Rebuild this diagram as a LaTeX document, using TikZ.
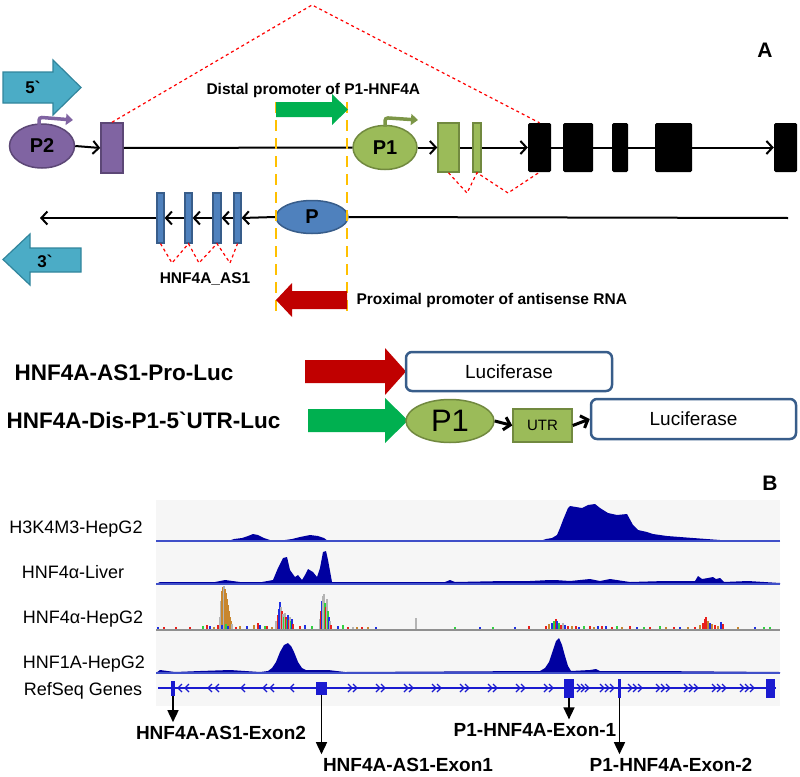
\documentclass[tikz,border=0pt]{standalone}
\usepackage{fontspec}
\setmainfont{Liberation Sans}
\usepackage{tikz}
\usetikzlibrary{arrows.meta,positioning,calc,shapes.geometric}

\definecolor{capblue}{HTML}{4BACC6}
\definecolor{capblueD}{HTML}{31859C}
\definecolor{ptwofill}{HTML}{8064A2}
\definecolor{ptwoline}{HTML}{5C4776}
\definecolor{ponefill}{HTML}{9BBB59}
\definecolor{poneline}{HTML}{71893F}
\definecolor{asfill}{HTML}{4F81BD}
\definecolor{asline}{HTML}{385D8A}
\definecolor{disgreen}{HTML}{00B050}
\definecolor{proxred}{HTML}{C00000}
\definecolor{guideorange}{HTML}{FFC000}
\definecolor{signal}{HTML}{0000A0}
\definecolor{sigline}{HTML}{3F4FC8}
\definecolor{trackbg}{HTML}{F6F6F6}
\definecolor{refseq}{HTML}{1A1AD0}
\definecolor{bargray}{HTML}{B4B4B4}
\definecolor{barorange}{HTML}{C8862E}
\definecolor{barred}{HTML}{E8201C}
\definecolor{barblue}{HTML}{2030E0}
\definecolor{bargreen}{HTML}{30D040}

\begin{document}
\begin{tikzpicture}[x=1pt,y=-1pt,
  txt/.style={font=\bfseries\fontsize{15.5}{18}\selectfont},
  strandtxt/.style={font=\bfseries\fontsize{17}{20}\selectfont},
  bigtxt/.style={font=\bfseries\fontsize{22.5}{26}\selectfont},
  trk/.style={font=\fontsize{18}{21}\selectfont},
  exlbl/.style={font=\bfseries\fontsize{19}{22}\selectfont},
  prom/.style={ellipse, line width=1.5pt, inner sep=0pt, font=\bfseries\fontsize{20}{22}\selectfont},
  blk/.style={fill=black, rounded corners=1.5pt, minimum height=49pt, inner sep=0pt},
  gex/.style={fill=ponefill, draw=poneline, line width=1.5pt, minimum height=49pt, inner sep=0pt},
  aex/.style={fill=asfill, draw=asline, line width=1.2pt, minimum width=7pt, minimum height=50pt, inner sep=0pt},
  chev/.style={line width=2pt, -{Straight Barb[length=6pt,width=13pt]}},
  splice/.style={red, dashed, line width=1.2pt},
  guide/.style={guideorange, line width=2.5pt, dash pattern=on 11pt off 7pt},
  lucbox/.style={draw=asline, line width=2.5pt, rounded corners=6pt, fill=white, inner sep=0pt, font=\fontsize{19}{22}\selectfont},
  sig/.style={fill=signal},
  base/.style={sigline, line width=1.5pt},
  refex/.style={fill=refseq, inner sep=0pt},
  pointer/.style={line width=1.5pt, -{Triangle[length=12pt,width=11pt]}}
]
\useasboundingbox (0,0) rectangle (800,776);

% ---------- panel A ----------
\node[font=\bfseries\fontsize{21}{24}\selectfont] (panA) at (765,50) {A};
\coordinate (peak) at (312,5);

% strand arrows
\filldraw[fill=capblue, draw=capblueD, line width=1.2pt]
  (3,72) -- (53,72) -- (53,60) -- (81,87.5) -- (53,115) -- (53,103) -- (3,103) -- cycle;
\node[strandtxt] (fivep) at (33,87) {5\textasciigrave};
\filldraw[fill=capblue, draw=capblueD, line width=1.2pt]
  (81,248) -- (30,248) -- (30,234) -- (3,259.5) -- (30,285) -- (30,272) -- (81,272) -- cycle;
\node[strandtxt] (threep) at (45,261) {3\textasciigrave};

% sense strand
\node[prom, fill=ptwofill, draw=ptwoline, minimum width=65pt, minimum height=44pt] (ptwo) at (42,146) {P2};
\node[fill=ptwofill, draw=ptwoline, line width=1.5pt, minimum width=22pt, minimum height=50pt, inner sep=0pt] (pex) at (112,148) {};
\node[prom, fill=ponefill, draw=poneline, minimum width=64pt, minimum height=44pt] (pone) at (385,147.5) {P1};
\node[gex, minimum width=21pt] (gexa) at (448.5,147.5) {};
\node[gex, minimum width=8pt] (gexb) at (477,147.5) {};
\node[blk, minimum width=23pt] (bexa) at (539.5,147.5) {};
\node[blk, minimum width=30pt] (bexb) at (578,147.5) {};
\node[blk, minimum width=16pt] (bexc) at (620,147.5) {};
\node[blk, minimum width=37pt] (bexd) at (673.5,147.5) {};
\node[blk, minimum width=23pt] (bexe) at (785.5,147.5) {};

\draw[chev] (ptwo.east) -- (pex.west);
\draw[line width=2pt] (pex.east) -- (pone.west);
\draw[chev] (pone.east) -- (gexa.west);
\draw[line width=2pt] (gexa.east) -- (gexb.west);
\draw[chev] (gexb.east) -- (bexa.west);
\draw[line width=2pt] (bexa) -- (bexb) (bexb) -- (bexc) (bexc) -- (bexd);
\draw[chev] (bexd.east) -- (bexe.west);

% TSS arrows
\draw[ptwofill, line width=3.5pt, rounded corners=3pt, -{Triangle[length=7pt,width=11pt]}]
  ($(ptwo.north)+(-3,2)$) -- ++(0,-8) -- (73,120);
\draw[ponefill!80!black, line width=3.5pt, rounded corners=3pt, -{Triangle[length=7pt,width=11pt]}]
  ($(pone.north)+(0,2)$) -- ++(0,-9) -- (418,120);

% splicing
\draw[splice] (pex.north) -- (peak) -- (bexa.north);
\coordinate (va) at (467,193);
\coordinate (vb) at (508,193);
\draw[splice] (gexa.south) -- (va) -- (gexb.south) -- (vb) -- (bexa.south);

% antisense strand
\coordinate (asend) at (788,218);
\coordinate (asstart) at (40,218);
\node[prom, fill=asfill, draw=asline, minimum width=72pt, minimum height=33pt] (pas) at (312,217) {P};
\node[aex] (aexd) at (237.5,218) {};
\node[aex, minimum width=8pt] (aexc) at (217,218) {};
\node[aex] (aexb) at (188.5,218) {};
\node[aex] (aexa) at (160.5,218) {};
\draw[line width=2pt] (asend) -- (pas.east);
\draw[chev] (pas.west) -- (aexd.east);
\draw[chev] (aexd.west) -- (aexc.east);
\draw[chev] (aexc.west) -- (aexb.east);
\draw[chev] (aexb.west) -- (aexa.east);
\draw[chev] (aexa.west) -- (asstart);
\coordinate (wa) at (172,263);
\coordinate (wb) at (199,263);
\coordinate (wc) at (230,263);
\draw[splice] (aexa.south) -- (wa) -- (aexb.south) -- (wb) -- (aexc.south) -- (wc) -- (aexd.south);
\node[txt, anchor=base] (aslbl) at (205,283) {HNF4A\_AS1};

% promoter regions
\draw[guide] (276,102) -- (276,312);
\draw[guide] (347,102) -- (347,312);
\fill[disgreen] (276,102) -- (332,102) -- (332,94) -- (348,109.5) -- (332,125) -- (332,117) -- (276,117) -- cycle;
\node[txt, anchor=base west] (dislbl) at (203,94) {Distal promoter of P1-HNF4A};
\fill[proxred] (347,291) -- (292,291) -- (292,283) -- (276,300) -- (292,317) -- (292,309) -- (347,309) -- cycle;
\node[txt, anchor=base west] (proxlbl) at (353,304) {Proximal promoter of antisense RNA};

% constructs
\node[bigtxt, anchor=base west] (conA) at (11,380) {HNF4A-AS1-Pro-Luc};
\fill[proxred] (305,360) -- (385,360) -- (385,348) -- (406,371.5) -- (385,395) -- (385,383) -- (305,383) -- cycle;
\node[lucbox, minimum width=206pt, minimum height=39pt] (luca) at (509,371.5) {Luciferase};

\node[bigtxt, anchor=base west] (conB) at (3,428) {HNF4A-Dis-P1-5\textasciigrave UTR-Luc};
\fill[disgreen] (308,409) -- (385,409) -- (385,398) -- (408,420.5) -- (385,443) -- (385,432) -- (308,432) -- cycle;
\node[ellipse, fill=ponefill, draw=poneline, line width=1.5pt, minimum width=88pt, minimum height=43pt, inner sep=0pt, font=\fontsize{31}{34}\selectfont] (ponec) at (450,421) {P1};
\node[fill=ponefill, draw=poneline, line width=1.5pt, minimum width=59pt, minimum height=33pt, inner sep=0pt, font=\fontsize{15}{17}\selectfont] (utr) at (542.5,425.5) {UTR};
\node[lucbox, minimum width=205pt, minimum height=40pt] (lucb) at (693.5,419) {Luciferase};
\draw[chev, line width=3pt] (ponec.east) -- (utr.west);
\draw[chev, line width=3pt] (utr.east) -- (lucb.west);

% ---------- panel B ----------
\node[font=\bfseries\fontsize{21}{24}\selectfont] (panB) at (770,483) {B};
\fill[trackbg] (156,500) rectangle (780,706);

% H3K4M3
\fill[sig] (156,541) -- (228,541) -- (234,539) -- (242,538) -- (248,536) -- (253,534) -- (258,535)
  -- (264,538) -- (270,540) -- (285,540) -- (292,539) -- (300,537) -- (310,535) -- (318,536)
  -- (324,538) -- (328,541) -- (540,541) -- (546,539) -- (552,538) -- (557,535) -- (560,528)
  -- (563,520) -- (568,508) -- (570,506) -- (576,507) -- (582,508) -- (588,505) -- (595,504)
  -- (600,508) -- (608,513) -- (617,515) -- (627,514) -- (633,525) -- (638,530) -- (647,532)
  -- (653,534) -- (667,536) -- (693,538) -- (720,540) -- (780,541) -- cycle;
\draw[base] (156,541) -- (780,541);
\node[trk, anchor=base] (tka) at (76,533) {H3K4M3-HepG2};

% HNF4a liver
\fill[sig] (156,584) -- (160,582) -- (185,582) -- (215,582) -- (225,580) -- (240,582) -- (262,582)
  -- (273,580) -- (278,568) -- (283,558) -- (287,557) -- (290,570) -- (295,577) -- (298,575)
  -- (302,580) -- (305,575) -- (308,569) -- (313,572) -- (317,577) -- (320,568) -- (323,552)
  -- (326,551) -- (328,560) -- (332,582) -- (350,582) -- (445,582) -- (450,580) -- (455,582)
  -- (505,581) -- (530,581) -- (550,580) -- (555,580) -- (570,581) -- (590,579) -- (600,581)
  -- (610,579) -- (630,582) -- (665,581) -- (695,581) -- (698,576) -- (702,579) -- (708,578)
  -- (713,577) -- (716,579) -- (720,578) -- (724,582) -- (748,581) -- (780,583) -- (780,584) -- cycle;
\draw[base] (156,584) -- (780,584);
\node[trk, anchor=base] (tkb) at (73,578) {HNF4α-Liver};

% HNF4a HepG2
\foreach \x/\h/\c in {218/4/barred,220/12/bargray,221/28/bargray,222/38/barorange,223/42/barorange,
  224/43/bargray,225/40/barorange,226/36/barorange,227/30/barorange,228/24/barorange,229/18/barorange,
  230/12/barorange,231/8/barorange,232/5/bargray,222/4/barblue,226/5/bargreen,228/3/barblue,
  276/8/bargray,278/14/barred,279/20/barblue,280/27/barblue,281/22/bargray,282/18/barred,283/15/bargray,
  284/12/bargreen,285/16/bargray,286/12/barred,287/10/bargreen,288/14/barblue,289/9/barred,290/12/bargray,
  291/8/bargreen,292/10/barblue,293/5/barred,
  320/10/bargray,321/18/barred,322/28/barblue,323/33/bargray,324/35/bargray,325/26/bargreen,326/22/barred,
  327/30/bargray,328/18/bargreen,329/12/barblue,330/8/bargray,331/4/barred,
  158/2/barblue,164/2/barred,176/2/barred,190/2/barred,203/3/bargreen,207/4/barred,210/3/barblue,
  214/2/barorange,236/2/barred,240/3/barorange,247/3/barblue,254/4/barorange,258/6/barred,260/4/barblue,
  265/3/bargreen,267/3/barred,272/2/barorange,300/3/barred,305/4/barblue,312/3/bargreen,338/3/barblue,
  343/4/bargreen,348/2/barred,353/2/bargray,357/2/barorange,362/2/barred,368/2/barorange,376/2/barblue,
  416/11/bargray,455/2/bargreen,480/2/barblue,493/2/bargreen,515/2/barblue,529/3/barred,546/3/barred,
  549/5/barorange,552/6/barblue,554/8/bargreen,556/10/barred,557/8/barblue,559/6/bargreen,561/4/barred,
  563/6/bargray,565/4/barblue,568/3/barred,572/3/barorange,576/3/barred,579/2/barblue,584/3/bargreen,
  590/3/barred,594/2/barorange,598/3/barblue,602/3/barred,606/3/barblue,612/2/barred,617/3/bargreen,
  622/2/barorange,630/3/barred,637/2/barblue,644/2/bargreen,650/2/barred,660/3/bargreen,666/2/barorange,
  674/2/barred,680/2/barblue,688/2/barorange,695/2/barred,700/4/barorange,703/6/barred,705/10/barred,
  706/12/barred,708/8/barorange,710/6/barblue,712/5/barorange,715/4/barred,718/3/barorange,721/7/barblue,
  723/5/barred,738/2/barorange,755/2/barblue,764/2/bargreen,770/2/bargreen}
  \fill[\c] (\x-0.7,629) rectangle (\x+0.7,629-\h);
\draw[bargray!80!black, line width=2pt] (156,630) -- (780,630);
\node[trk, anchor=base] (tkc) at (83,623) {HNF4α-HepG2};

% HNF1A
\fill[sig] (156,673) -- (160,670) -- (175,672) -- (200,671) -- (230,670) -- (260,672) -- (268,671)
  -- (272,668) -- (276,662) -- (280,652) -- (284,645) -- (288,643) -- (291,646) -- (294,652)
  -- (298,662) -- (302,668) -- (306,670) -- (328,670) -- (345,672) -- (540,671) -- (545,668)
  -- (549,662) -- (553,650) -- (556,641) -- (559,638) -- (562,645) -- (565,656) -- (568,666)
  -- (571,671) -- (590,670) -- (596,669) -- (600,671) -- (650,671) -- (780,672) -- (780,673) -- cycle;
\draw[base] (156,673) -- (780,673);
\node[trk, anchor=base] (tkd) at (84,668) {HNF1A-HepG2};

% RefSeq genes
\node[trk, anchor=base] (tke) at (83,695) {RefSeq Genes};
\draw[refseq, line width=1.5pt] (158,688) -- (776,688);
\foreach \cx in {180,187,210,217,243,265,272,292}
  \draw[refseq, line width=1.2pt] (\cx+2,684) -- (\cx-2,688) -- (\cx+2,692);
\foreach \cx in {350,355,378,383,406,411,434,439,462,467,490,495,518,523,546,551,
  579,583,587,602,607,612,630,635,640,658,663,668,686,691,696,714,719,724,742,747,752}
  \draw[refseq, line width=1.2pt] (\cx-2,684) -- (\cx+2,688) -- (\cx-2,692);
\node[refex, minimum width=4pt, minimum height=15pt] (asexb) at (173,688) {};
\node[refex, minimum width=11pt, minimum height=13pt] (asexa) at (321.5,688) {};
\node[refex, minimum width=10pt, minimum height=19pt] (pexa) at (569,688) {};
\node[refex, minimum width=3pt, minimum height=19pt] (pexb) at (619.5,688) {};
\node[refex, minimum width=9pt, minimum height=19pt] (lastex) at (770.5,688) {};

% exon labels
\node[exlbl, anchor=base] (lblasb) at (221,739) {HNF4A-AS1-Exon2};
\node[exlbl, anchor=base] (lblasa) at (408,771) {HNF4A-AS1-Exon1};
\node[exlbl, anchor=base] (lblpa) at (535,736) {P1-HNF4A-Exon-1};
\node[exlbl, anchor=base] (lblpb) at (671,771) {P1-HNF4A-Exon-2};
\draw[pointer] (asexb.south) -- (asexb.south |- lblasb.north);
\draw[pointer] (asexa.south) -- (asexa.south |- lblasa.north);
\draw[pointer] (pexa.south) -- (pexa.south |- lblpa.north);
\draw[pointer] (pexb.south) -- (pexb.south |- lblpb.north);
\end{tikzpicture}
\end{document}
